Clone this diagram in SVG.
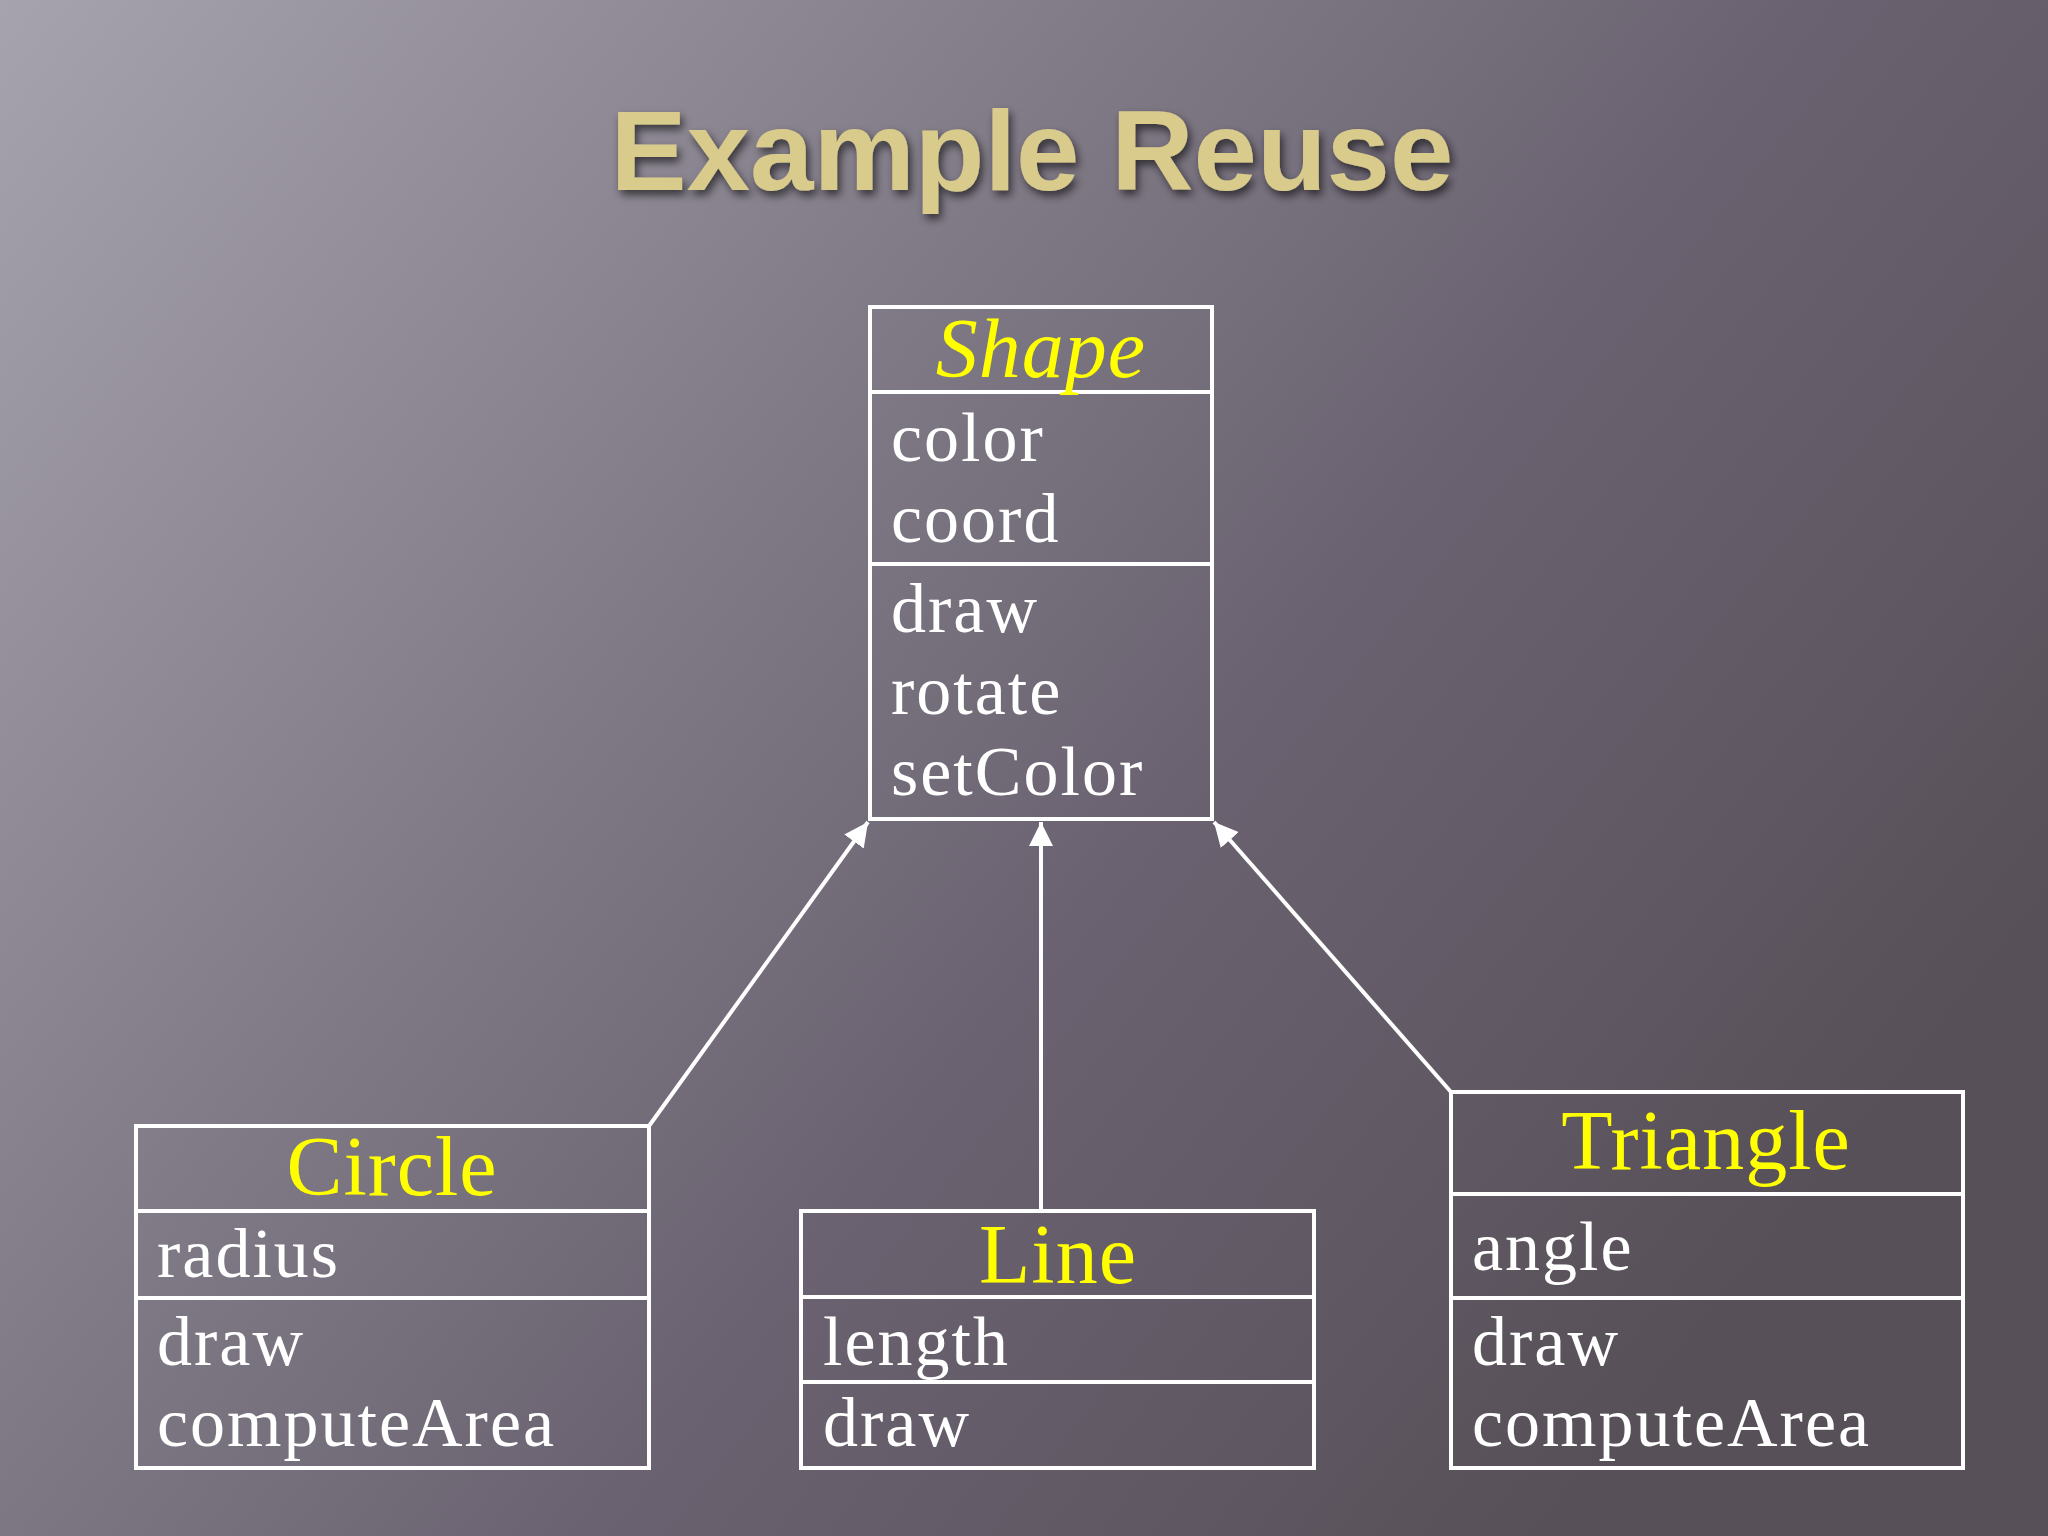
<svg xmlns="http://www.w3.org/2000/svg" width="2048" height="1536" viewBox="0 0 2048 1536">
<defs>
<linearGradient id="bg" x1="0" y1="0" x2="1" y2="0.6">
<stop offset="0" stop-color="#a7a3ae"/>
<stop offset="0.3" stop-color="#8a8590"/>
<stop offset="0.65" stop-color="#6a6270"/>
<stop offset="1" stop-color="#585058"/>
</linearGradient>
<filter id="sh"><feDropShadow dx="3" dy="5" stdDeviation="4" flood-color="#000" flood-opacity="0.6"/></filter>
<marker id="arw" viewBox="0 0 10 10" refX="10" refY="5" markerWidth="6" markerHeight="6" orient="auto"><path d="M0,0 L10,5 L0,10 z" fill="#fff"/></marker>
</defs>
<style>
.box{fill:none;stroke:#fff;stroke-width:4}
.t{font-family:"Liberation Serif",serif;font-size:70px;letter-spacing:2px;fill:#fff}
.n{font-family:"Liberation Serif",serif;font-size:84px;letter-spacing:1px;fill:#ffff00;text-anchor:middle}
.c{stroke:#fff;stroke-width:4;fill:none;marker-end:url(#arw)}
</style>
<rect width="2048" height="1536" fill="url(#bg)"/>
<text x="1032" y="190" font-family="Liberation Sans, sans-serif" font-size="114" font-weight="bold" fill="#d9cb8c" text-anchor="middle" filter="url(#sh)">Example Reuse</text>
<g id="connectors">
<line class="c" x1="649" y1="1126" x2="868" y2="822"/>
<line class="c" x1="1041" y1="1211" x2="1041" y2="822"/>
<line class="c" x1="1451" y1="1092" x2="1214" y2="822"/>
</g>
<g id="shape">
<rect class="box" x="870" y="307" width="342" height="512"/>
<line class="box" x1="870" y1="392" x2="1212" y2="392"/>
<line class="box" x1="870" y1="564" x2="1212" y2="564"/>
<text class="n" x="1041" y="377" font-style="italic">Shape</text>
<text class="t" x="891" y="461">color</text>
<text class="t" x="891" y="542">coord</text>
<text class="t" x="891" y="632">draw</text>
<text class="t" x="891" y="714">rotate</text>
<text class="t" x="891" y="795">setColor</text>
</g>
<g id="circle">
<rect class="box" x="136" y="1126" width="513" height="342"/>
<line class="box" x1="136" y1="1211" x2="649" y2="1211"/>
<line class="box" x1="136" y1="1298" x2="649" y2="1298"/>
<text class="n" x="392" y="1195">Circle</text>
<text class="t" x="157" y="1277">radius</text>
<text class="t" x="157" y="1365">draw</text>
<text class="t" x="157" y="1446">computeArea</text>
</g>
<g id="line">
<rect class="box" x="801" y="1211" width="513" height="257"/>
<line class="box" x1="801" y1="1297" x2="1314" y2="1297"/>
<line class="box" x1="801" y1="1382" x2="1314" y2="1382"/>
<text class="n" x="1058" y="1283">Line</text>
<text class="t" x="823" y="1365">length</text>
<text class="t" x="823" y="1446">draw</text>
</g>
<g id="triangle">
<rect class="box" x="1451" y="1092" width="512" height="376"/>
<line class="box" x1="1451" y1="1194" x2="1963" y2="1194"/>
<line class="box" x1="1451" y1="1298" x2="1963" y2="1298"/>
<text class="n" x="1706" y="1169">Triangle</text>
<text class="t" x="1472" y="1270">angle</text>
<text class="t" x="1472" y="1365">draw</text>
<text class="t" x="1472" y="1446">computeArea</text>
</g>
</svg>
